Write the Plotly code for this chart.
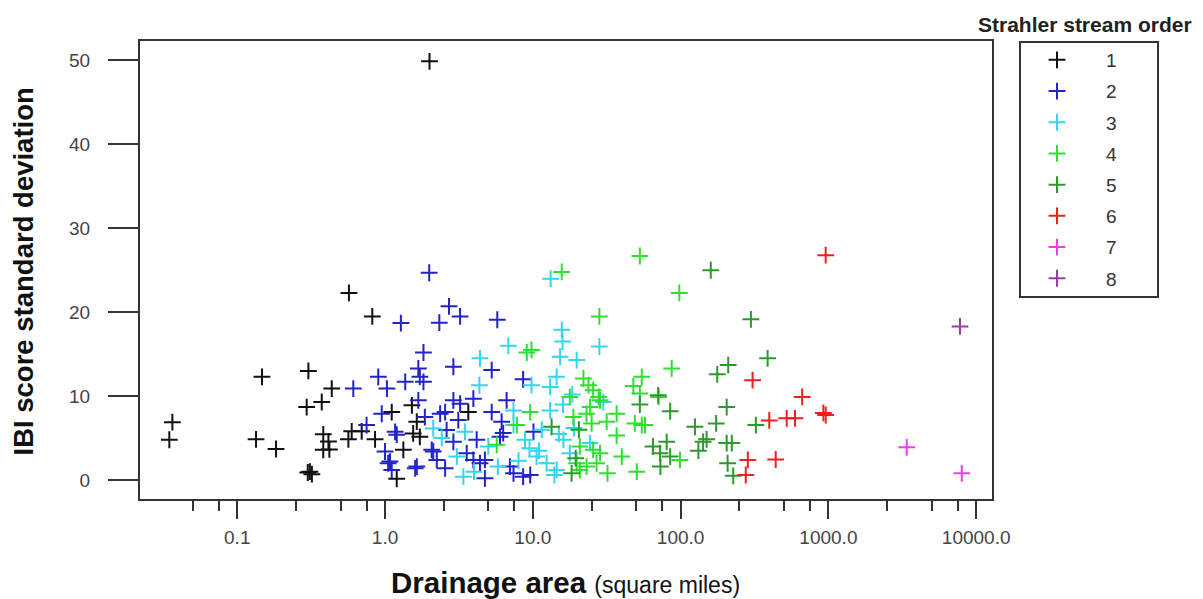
import plotly.graph_objects as go

orders = ["1", "2", "3", "4", "5", "6", "7", "8"]
colors = ["#111111", "#2323C8", "#33D6F0", "#2EE02E", "#2A9A2A", "#F01E1E", "#F23CF2", "#9A3CA8"]

x1 = [2.0, 0.57, 0.82, 0.147, 0.303, 0.436, 0.373, 0.295, 0.0364, 0.0347, 0.134, 0.183, 0.382, 0.414, 0.382, 0.42,
      0.31, 0.32, 0.30, 0.565, 0.595, 0.695, 0.856, 1.11, 1.2, 1.52, 1.64, 1.55, 1.72, 1.33, 3.66]
y1 = [49.9, 22.3, 19.5, 12.3, 13.0, 10.9, 9.3, 8.7, 6.9, 4.8, 4.85, 3.7, 5.45, 4.6, 3.6, 3.65,
      1.0, 0.7, 0.9, 4.85, 5.8, 5.8, 4.85, 8.1, 0.15, 8.9, 6.95, 5.55, 5.15, 3.6, 8.1]

x2 = [1.99, 2.71, 3.22, 1.28, 2.33, 5.75, 1.82, 2.9, 1.68, 5.27, 8.6, 0.61, 0.90, 1.03, 1.37, 1.72, 1.82, 1.68,
      0.95, 2.9, 3.22, 3.96, 2.55, 2.36, 1.86, 1.17, 2.61, 2.9, 4.17, 1.0, 1.05, 1.11, 1.64, 2.12, 2.24, 2.55,
      3.57, 3.96, 4.39, 4.74, 0.75, 1.2, 1.08, 6.65, 5.27, 6.15, 10.1, 6.0, 4.74, 7.0, 7.4, 8.6, 9.6, 3.13,
      6.3, 2.07, 1.6]
y2 = [24.7, 20.7, 19.5, 18.7, 18.75, 19.1, 15.2, 13.5, 13.3, 13.1, 12.0, 10.9, 12.3, 10.9, 11.7, 12.3, 11.7, 9.5,
      7.9, 9.5, 9.1, 9.7, 8.1, 7.9, 7.5, 5.75, 5.95, 4.55, 4.8, 3.4, 2.0, 1.2, 1.6, 3.4, 2.4, 1.4,
      3.2, 2.4, 2.0, 0.2, 6.55, 5.4, 2.2, 9.5, 8.1, 6.95, 5.75, 5.15, 2.4, 1.6, 0.8, 0.4, 0.6, 7.15,
      5.6, 3.6, 1.4]

x3 = [13.2, 15.7, 15.9, 28.2, 6.83, 4.39, 15.3, 19.8, 4.35, 9.8, 13.1, 14.5, 2.12, 2.42, 3.47, 3.06, 3.39, 7.4,
      13.1, 7.4, 8.85, 16.1, 10.6, 12.4, 14.5, 17.8, 30.0, 24.4, 18.5, 16.0, 19.0, 15.0, 11.0, 8.0, 5.8, 14.0,
      9.5, 5.0, 4.0, 11.5]
y3 = [24.0, 17.9, 16.5, 15.9, 16.0, 14.5, 14.7, 14.3, 11.3, 11.3, 11.1, 12.3, 6.15, 5.0, 5.75, 2.8, 0.4, 8.3,
      8.3, 6.55, 4.8, 4.8, 2.8, 2.0, 1.2, 3.2, 9.3, 4.4, 10.2, 9.0, 6.2, 5.5, 3.5, 2.3, 1.6, 0.6,
      3.8, 4.0, 1.0, 6.0]

x4 = [15.7, 53.0, 98.0, 28.2, 9.1, 9.8, 87.0, 22.0, 23.8, 25.6, 47.9, 54.6, 53.0, 71.0, 28.5, 36.9, 31.6, 49.0,
      54.6, 57.4, 36.9, 9.6, 7.8, 5.7, 40.0, 50.5, 28.5, 32.0, 17.8, 18.8, 23.1, 24.4, 20.8, 19.8, 20.8, 23.1,
      25.6, 27.9, 25.0, 27.0, 99.0]
y4 = [24.8, 26.7, 22.3, 19.5, 15.2, 15.5, 13.3, 12.1, 11.3, 10.7, 11.2, 12.3, 10.3, 9.9, 9.5, 7.9, 6.95, 6.75,
      6.55, 6.55, 5.3, 8.1, 6.55, 4.2, 2.8, 1.0, 3.2, 0.8, 9.9, 7.5, 7.9, 8.7, 4.0, 2.0, 1.2, 1.6,
      3.6, 9.9, 6.75, 2.0, 2.4]

x5 = [160.0, 299.0, 388.0, 210.0, 177.0, 205.0, 174.0, 323.0, 125.0, 142.0, 150.0, 132.0, 205.0, 222.0, 208.0,
      227.0, 13.4, 73.0, 18.3, 70.5, 53.0, 85.0, 65.0, 80.5, 72.5, 85.0, 20.5, 19.5]
y5 = [25.0, 19.15, 14.5, 13.7, 12.6, 8.7, 6.75, 6.55, 6.35, 4.55, 4.85, 3.5, 4.4, 4.4, 2.0,
      0.5, 6.35, 1.6, 0.8, 10.1, 9.0, 8.2, 4.0, 4.55, 3.2, 2.8, 6.0, 2.6]

x6 = [959.0, 307.0, 665.0, 925.0, 959.0, 398.0, 522.0, 594.0, 285.0, 440.0, 276.0]
y6 = [26.8, 11.9, 9.9, 8.0, 7.75, 7.1, 7.35, 7.35, 2.4, 2.45, 0.6]

x7 = [3390.0, 7990.0]
y7 = [3.9, 0.8]

x8 = [7770.0]
y8 = [18.3]

xs = [x1, x2, x3, x4, x5, x6, x7, x8]
ys = [y1, y2, y3, y4, y5, y6, y7, y8]

x_tickvals = [0.1, 1, 10, 100, 1000, 10000]
x_ticktext = ["0.1", "1.0", "10.0", "100.0", "1000.0", "10000.0"]
x_minor = [0.05, 0.075, 0.25, 0.5, 0.75, 2.5, 5, 7.5, 25, 50, 75, 250, 500, 750, 2500, 5000, 7500]
y_tickvals = [0, 10, 20, 30, 40, 50]

FONT = "Liberation Sans, Arial, sans-serif"

# page body has an 8px margin; plot area in page pixels: x 140..992, y 41..499
PW, PH = 852, 458

fig = go.Figure()
for name, c, xv, yv in zip(orders, colors, xs, ys):
    fig.add_trace(go.Scatter(
        x=xv, y=yv, mode="markers", name=name + "&nbsp;&nbsp;&nbsp;&nbsp;&nbsp;&nbsp;&nbsp;",
        legendgroup=name,
        marker=dict(symbol="cross-thin", size=12, color=c, line=dict(color=c, width=2)),
    ))

fig.update_layout(
    width=1195, height=591,
    margin=dict(l=132, r=211, t=33, b=100),
    paper_bgcolor="white", plot_bgcolor="white",
    font=dict(family=FONT, color="#333333"),
    showlegend=True,
    legend=dict(
        x=(1008 - 140) / PW, xanchor="left",
        y=1.0, yanchor="top",
        itemwidth=88,
        font=dict(size=19, color="#333333"),
        tracegroupgap=3.5,
        bgcolor="rgba(0,0,0,0)", borderwidth=0,
    ),
    xaxis=dict(
        type="log", range=[-1.658, 4.107],
        tickmode="array", tickvals=x_tickvals, ticktext=x_ticktext,
        ticks="outside", ticklen=18, tickwidth=2, tickcolor="#333333",
        tickfont=dict(size=19, color="#444444"),
        ticklabelstandoff=2,
        minor=dict(tickvals=x_minor, ticks="outside", ticklen=10, tickwidth=2, tickcolor="#333333", showgrid=False),
        showline=True, linecolor="#333333", linewidth=2, mirror=True,
        showgrid=False, zeroline=False,
    ),
    yaxis=dict(
        range=[-2.26, 52.32],
        tickmode="array", tickvals=y_tickvals,
        ticks="outside", ticklen=30, tickwidth=2, tickcolor="#333333",
        tickfont=dict(size=19, color="#444444"),
        ticklabelstandoff=14,
        showline=True, linecolor="#333333", linewidth=2, mirror=True,
        showgrid=False, zeroline=False,
    ),
    shapes=[dict(type="rect", xref="paper", yref="paper",
                 x0=(1020 - 140) / PW, x1=(1158 - 140) / PW,
                 y0=(499 - 297) / PH, y1=(499 - 42) / PH,
                 line=dict(color="#333333", width=2), fillcolor="rgba(0,0,0,0)")],
    annotations=[
        dict(text="<b>IBI score standard deviation</b>", xref="paper", yref="paper",
             x=(23 - 140) / PW, y=(499 - 271.5) / PH, textangle=-90, showarrow=False,
             xanchor="center", yanchor="middle", font=dict(size=27.5, color="#111111", family=FONT)),
        dict(text="<b>Drainage area</b> <span style='font-size:23px'>(square miles)</span>",
             xref="paper", yref="paper", x=(565 - 140) / PW, y=(499 - 582) / PH, showarrow=False,
             xanchor="center", yanchor="middle", font=dict(size=29.5, color="#111111", family=FONT)),
        dict(text="<b>Strahler stream order</b>", xref="paper", yref="paper",
             x=(1085 - 140) / PW, y=(499 - 25) / PH, showarrow=False,
             xanchor="center", yanchor="middle", font=dict(size=21, color="#222222", family=FONT)),
    ],
)

fig.write_html("out.html")
